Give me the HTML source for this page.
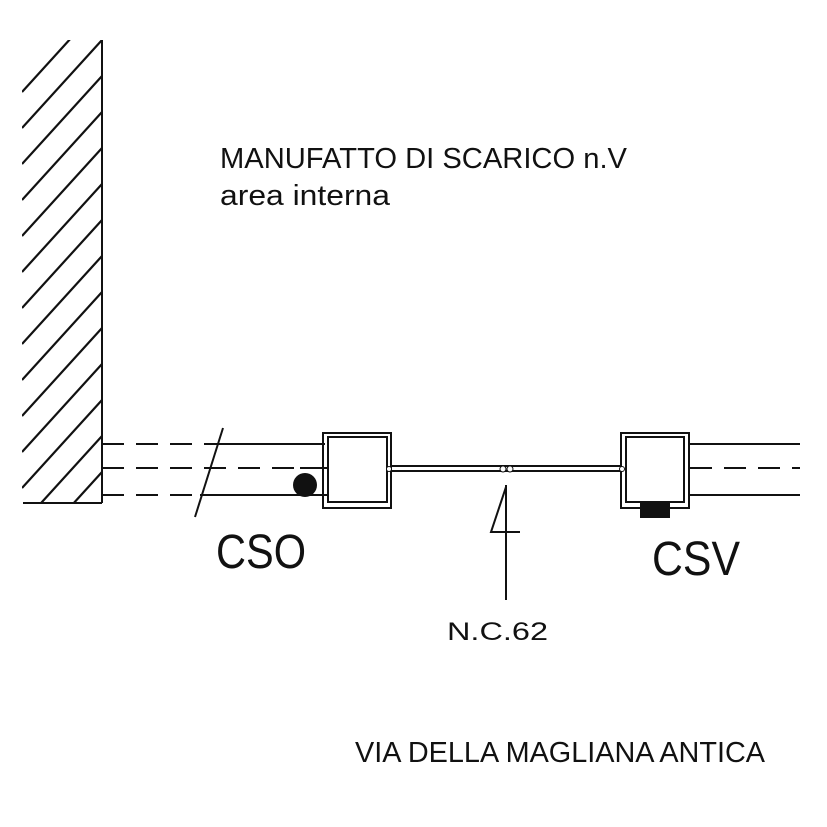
<!DOCTYPE html>
<html><head><meta charset="utf-8"><style>html,body{margin:0;padding:0;background:#fff}svg{display:block}</style></head>
<body>
<svg width="827" height="827" viewBox="0 0 827 827" xmlns="http://www.w3.org/2000/svg">
<defs><clipPath id="w"><rect x="22" y="40" width="80" height="463"/></clipPath></defs>
<g stroke="#111" stroke-width="2.2" clip-path="url(#w)">
<line x1="102" y1="40" x2="22" y2="128"/>
<line x1="102" y1="4" x2="22" y2="92"/>
<line x1="102" y1="76" x2="22" y2="164"/>
<line x1="102" y1="112" x2="22" y2="200"/>
<line x1="102" y1="148" x2="22" y2="236"/>
<line x1="102" y1="184" x2="22" y2="272"/>
<line x1="102" y1="220" x2="22" y2="308"/>
<line x1="102" y1="256" x2="22" y2="344"/>
<line x1="102" y1="292" x2="22" y2="380"/>
<line x1="102" y1="328" x2="22" y2="416"/>
<line x1="102" y1="364" x2="22" y2="452"/>
<line x1="102" y1="400" x2="22" y2="488"/>
<line x1="102" y1="436" x2="22" y2="524"/>
<line x1="102" y1="472" x2="22" y2="560"/>
</g>
<g stroke="#111" stroke-width="2" fill="none">
<line x1="102" y1="40" x2="102" y2="503"/>
<line x1="23" y1="503" x2="102" y2="503"/>
<line x1="102" y1="444" x2="215" y2="444" stroke-dasharray="22,12"/>
<line x1="215" y1="444" x2="325" y2="444"/>
<line x1="102" y1="468" x2="300" y2="468" stroke-dasharray="22,12"/>
<line x1="300" y1="468" x2="328" y2="468"/>
<line x1="102" y1="495" x2="200" y2="495" stroke-dasharray="22,12"/>
<line x1="200" y1="495" x2="328" y2="495"/>
<line x1="223" y1="428" x2="195" y2="517"/>
<rect x="323" y="433" width="68" height="75"/>
<rect x="328" y="437" width="59" height="65"/>
<line x1="392" y1="466" x2="620" y2="466" stroke-width="2"/>
<line x1="392" y1="471" x2="620" y2="471" stroke-width="2"/>
<rect x="621" y="433" width="68" height="75"/>
<rect x="626" y="437" width="58" height="65"/>
<line x1="690" y1="444" x2="800" y2="444"/>
<line x1="690" y1="468" x2="800" y2="468" stroke-dasharray="22,12"/>
<line x1="690" y1="495" x2="800" y2="495"/>
<line x1="506" y1="485" x2="506" y2="600"/>
<polyline points="506,487 491,532 520,532"/>
</g>
<circle cx="305" cy="485" r="12" fill="#111"/>
<rect x="640" y="503" width="30" height="15" fill="#111"/>
<g fill="#fff" stroke="#111" stroke-width="1"><circle cx="503" cy="469" r="3"/><circle cx="510" cy="469" r="3"/><circle cx="389" cy="469" r="2.5"/><circle cx="622" cy="469" r="2.5"/></g>
<g font-family="Liberation Sans, sans-serif" fill="#111">
<text x="220" y="168" font-size="29" textLength="407" lengthAdjust="spacingAndGlyphs">MANUFATTO DI SCARICO n.V</text>
<text x="220" y="205" font-size="29" textLength="170" lengthAdjust="spacingAndGlyphs">area interna</text>
<text x="216" y="568" font-size="48" textLength="90" lengthAdjust="spacingAndGlyphs">CSO</text>
<text x="652" y="575" font-size="48" textLength="88" lengthAdjust="spacingAndGlyphs">CSV</text>
<text x="447" y="640" font-size="25" textLength="101" lengthAdjust="spacingAndGlyphs">N.C.62</text>
<text x="355" y="762" font-size="29" textLength="410" lengthAdjust="spacingAndGlyphs">VIA DELLA MAGLIANA ANTICA</text>
</g>
</svg>
</body></html>
